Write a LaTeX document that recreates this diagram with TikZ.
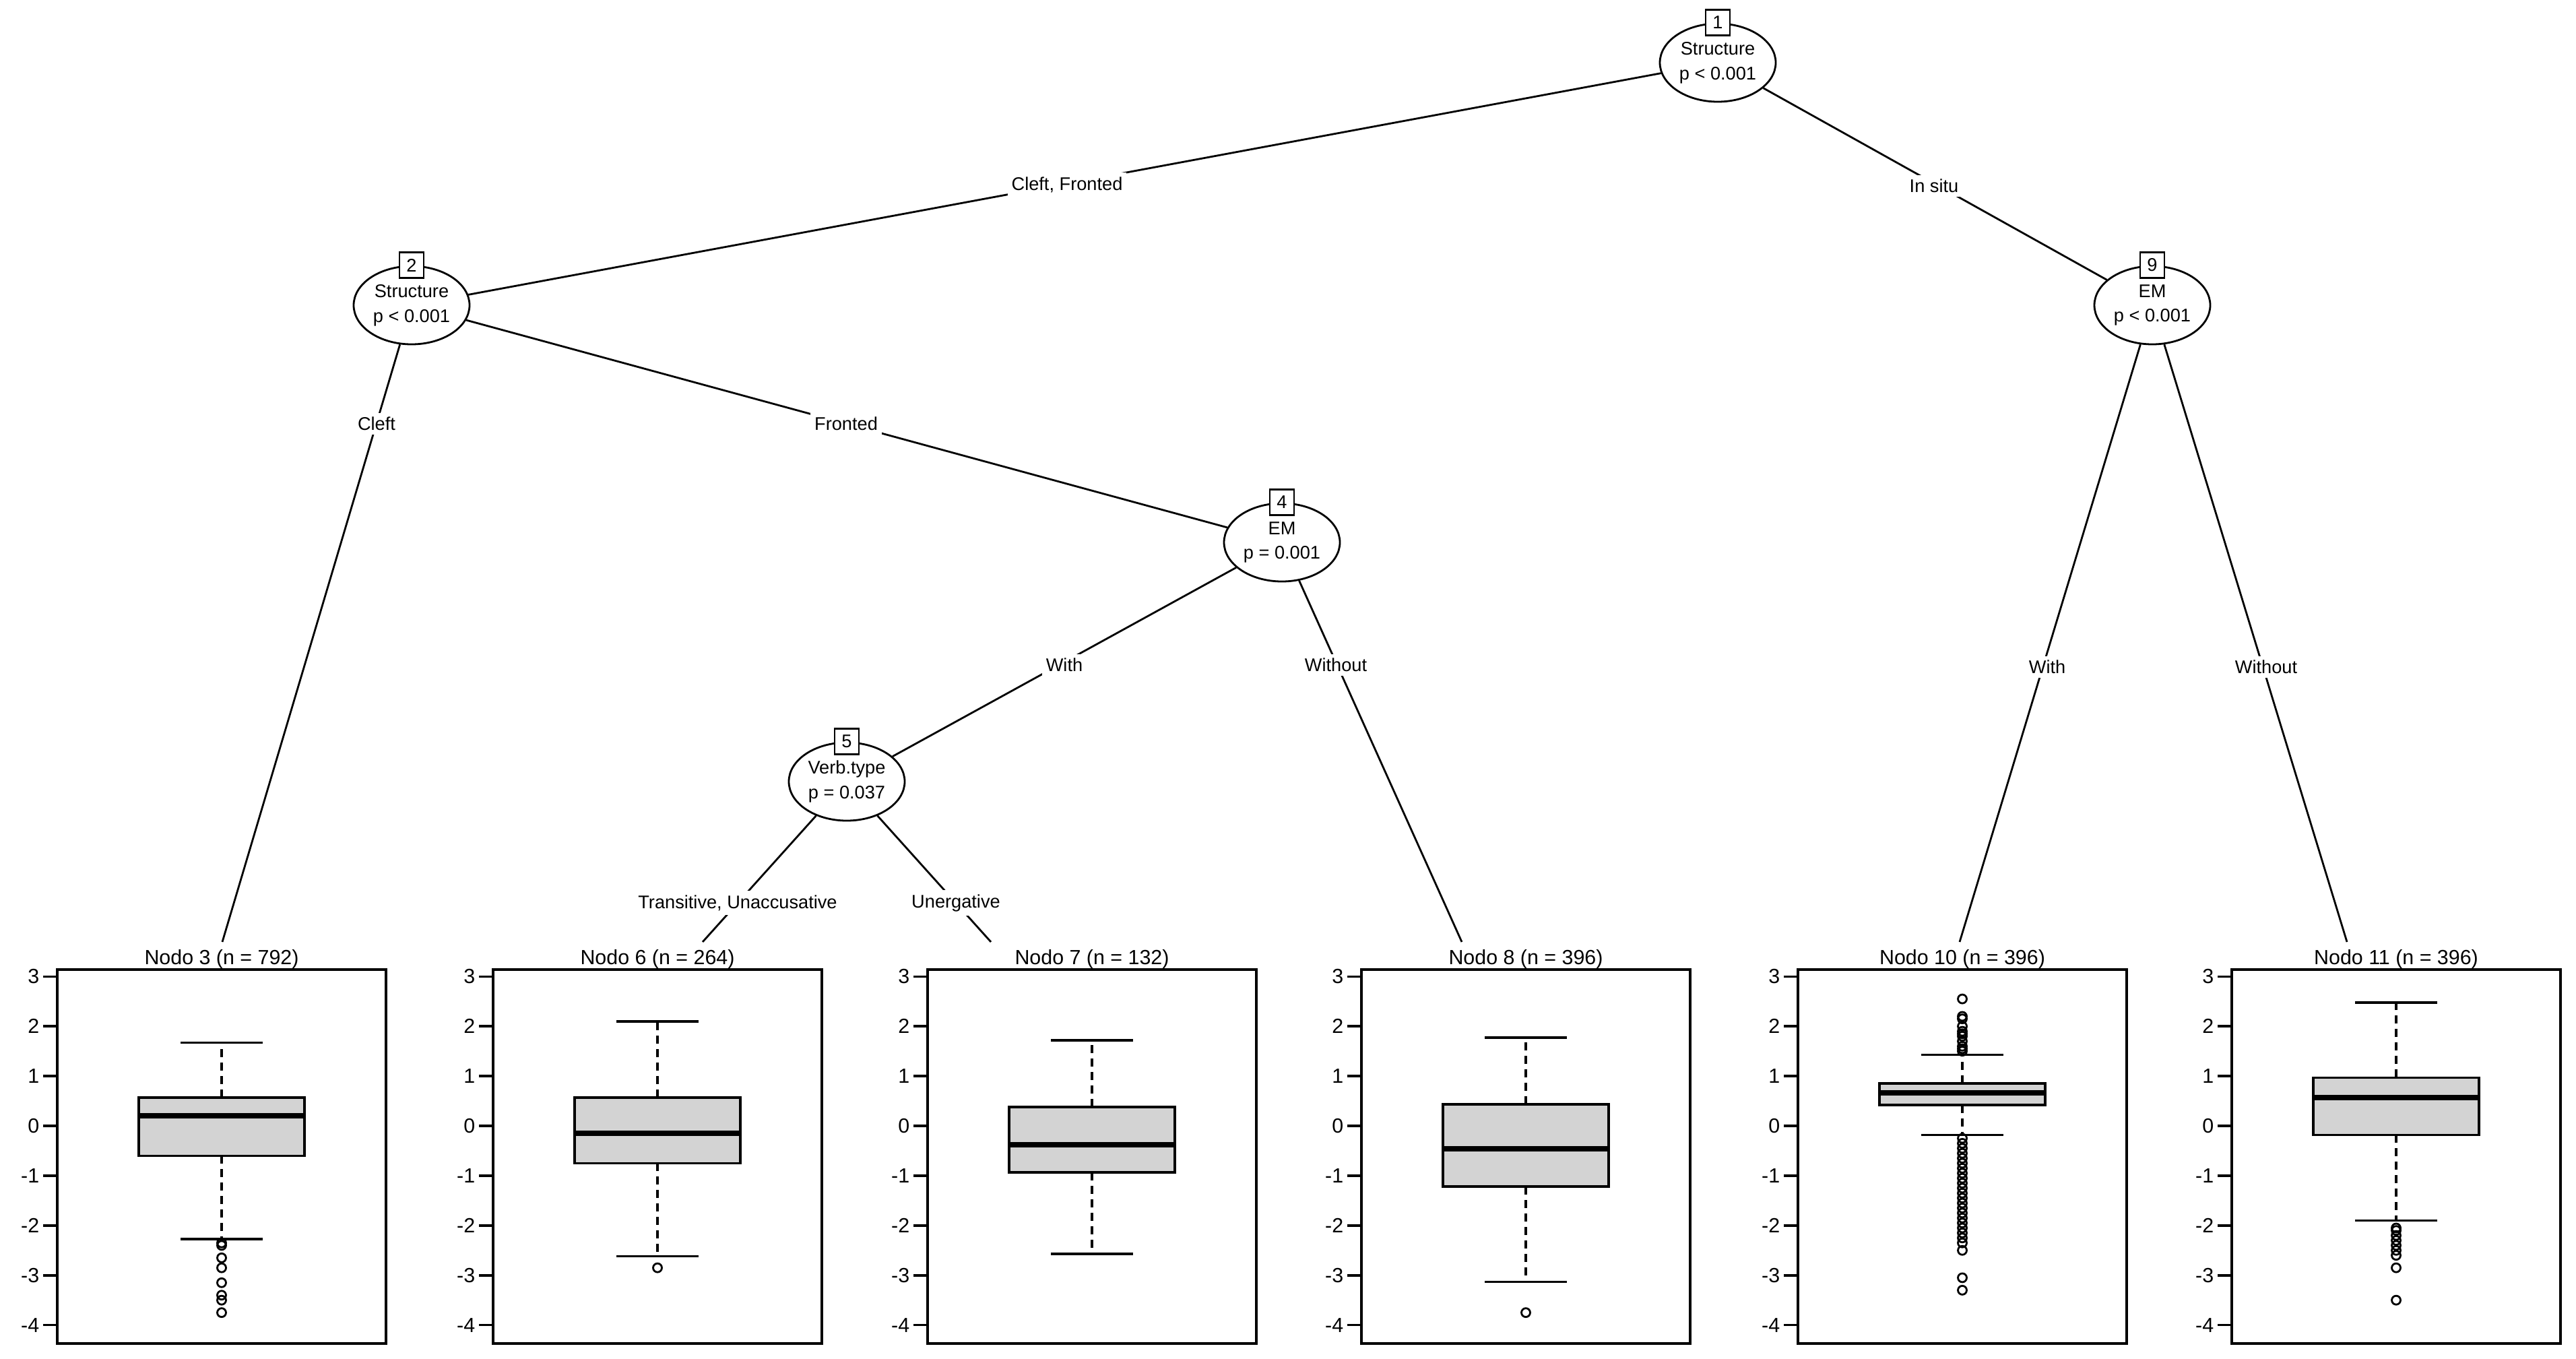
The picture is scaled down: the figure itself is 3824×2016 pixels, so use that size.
\documentclass[tikz,border=0pt]{standalone}
\usepackage{fontspec}
\setmainfont{Liberation Sans}
\usetikzlibrary{shapes.geometric}
\definecolor{boxgray}{RGB}{211,211,211}
\newcommand{\yv}[1]{(1671-73.9*(#1))}
% #1 name, #2 left, #3 q1, #4 med, #5 q3, #6 wlo, #7 whi, #8 outliers, #9 title
\newcommand{\boxpanel}[9]{%
  \pgfmathsetmacro{\cx}{#2+244}%
  \draw[frame] (#2,1439) rectangle (#2+488,1994);
  \node[ttl] (#1) at (\cx,1431) {#9};
  \foreach \t in {3,2,1,0,-1,-2,-3,-4}{
    \draw[frame] (#2,{1671-73.9*\t}) -- (#2-21,{1671-73.9*\t});
    \node[tick,anchor=east] at (#2-26,{1671-73.9*\t}) {\ifnum\t<0 -\the\numexpr-\t\relax\else\t\fi};
  }
  \draw[whisk] (\cx,{1671-73.9*(#5)}) -- (\cx,{1671-73.9*(#7)});
  \draw[whisk] (\cx,{1671-73.9*(#3)}) -- (\cx,{1671-73.9*(#6)});
  \draw[frame] (\cx-61,{1671-73.9*(#7)}) -- (\cx+61,{1671-73.9*(#7)});
  \draw[frame] (\cx-61,{1671-73.9*(#6)}) -- (\cx+61,{1671-73.9*(#6)});
  \draw[frame,fill=boxgray] (\cx-123,{1671-73.9*(#3)}) rectangle (\cx+123,{1671-73.9*(#5)});
  \draw[med] (\cx-123,{1671-73.9*(#4)}) -- (\cx+123,{1671-73.9*(#4)});
  \foreach \o in {#8}{\draw[outl] (\cx,{1671-73.9*(\o)}) circle[radius=6.5];}
}
\tikzset{
  x=0.25pt,y=-0.25pt,
  inner/.style={ellipse,draw,line width=0.7pt,minimum width=43pt,minimum height=29pt,inner sep=0pt,align=center,font=\fontsize{6.8}{9.2}\selectfont,fill=white},
  num/.style={draw,fill=white,line width=0.7pt,inner sep=1pt,minimum width=9pt,minimum height=9.5pt,font=\fontsize{6.8}{8}\selectfont},
  elab/.style={fill=white,inner sep=1.5pt,font=\fontsize{6.8}{8}\selectfont},
  edge/.style={line width=0.7pt},
  ttl/.style={anchor=base,font=\fontsize{7.6}{9}\selectfont,inner sep=0pt},
  tick/.style={font=\fontsize{7.6}{9}\selectfont,inner sep=0pt},
  frame/.style={line width=0.9pt},
  whisk/.style={line width=0.8pt,dash pattern=on 3pt off 2pt},
  med/.style={line width=2pt},
  outl/.style={line width=0.7pt},
}
\begin{document}
\begin{tikzpicture}
\useasboundingbox[fill=white] (0,0) rectangle (3824,2016);
% inner nodes
\node[inner] (n1) at (2550,93) {Structure\\p < 0.001};
\node[inner] (n2) at (611,453) {Structure\\p < 0.001};
\node[inner] (n9) at (3195,453) {EM\\p < 0.001};
\node[inner] (n4) at (1903,805) {EM\\p = 0.001};
\node[inner] (n5) at (1257,1160) {Verb.type\\p = 0.037};
% leaf edge endpoints
\coordinate (e3) at (330,1398);
\coordinate (e6) at (1043,1398);
\coordinate (e7) at (1471,1398);
\coordinate (e8) at (2170,1398);
\coordinate (e10) at (2909,1398);
\coordinate (e11) at (3484,1398);
% edges
\draw[edge] (n1) -- (n2);
\draw[edge] (n1) -- (n9);
\draw[edge] (n2) -- (e3);
\draw[edge] (n2) -- (n4);
\draw[edge] (n4) -- (n5);
\draw[edge] (n4) -- (e8);
\draw[edge] (n5) -- (e6);
\draw[edge] (n5) -- (e7);
\draw[edge] (n9) -- (e10);
\draw[edge] (n9) -- (e11);
% number boxes
\node[num] (b1) at (n1.north) {1};
\node[num] (b2) at (n2.north) {2};
\node[num] (b9) at (n9.north) {9};
\node[num] (b4) at (n4.north) {4};
\node[num] (b5) at (n5.north) {5};
% edge labels
\node[elab] (l12) at (1584,274) {Cleft, Fronted};
\node[elab] (l19) at (2871,276) {In situ};
\node[elab] (l23) at (559,629) {Cleft};
\node[elab] (l24) at (1256,629) {Fronted};
\node[elab] (l45) at (1580,987) {With};
\node[elab] (l48) at (1983,987) {Without};
\node[elab] (l56) at (1095,1340) {Transitive, Unaccusative};
\node[elab] (l57) at (1419,1340) {Unergative};
\node[elab] (l910) at (3039,990) {With};
\node[elab] (l911) at (3364,990) {Without};
% panels
\boxpanel{t3}{85}{-0.6}{0.2}{0.57}{-2.27}{1.67}{-2.35,-2.4,-2.65,-2.85,-3.15,-3.4,-3.5,-3.75}{Nodo 3 (n = 792)}
\boxpanel{t6}{732}{-0.75}{-0.15}{0.57}{-2.62}{2.1}{-2.85}{Nodo 6 (n = 264)}
\boxpanel{t7}{1377}{-0.93}{-0.38}{0.38}{-2.57}{1.72}{}{Nodo 7 (n = 132)}
\boxpanel{t8}{2021}{-1.22}{-0.46}{0.43}{-3.13}{1.77}{-3.75}{Nodo 8 (n = 396)}
\boxpanel{t10}{2669}{0.42}{0.66}{0.85}{-0.18}{1.43}{1.5,1.55,1.6,1.7,1.8,1.85,1.9,2.0,2.15,2.2,2.55,-0.25,-0.35,-0.45,-0.55,-0.65,-0.75,-0.85,-0.95,-1.05,-1.15,-1.25,-1.35,-1.45,-1.55,-1.65,-1.75,-1.85,-1.95,-2.05,-2.15,-2.25,-2.35,-2.5,-3.05,-3.3}{Nodo 10 (n = 396)}
\boxpanel{t11}{3313}{-0.18}{0.57}{0.97}{-1.9}{2.48}{-2.05,-2.1,-2.2,-2.3,-2.4,-2.5,-2.6,-2.85,-3.5}{Nodo 11 (n = 396)}
\end{tikzpicture}
\end{document}
